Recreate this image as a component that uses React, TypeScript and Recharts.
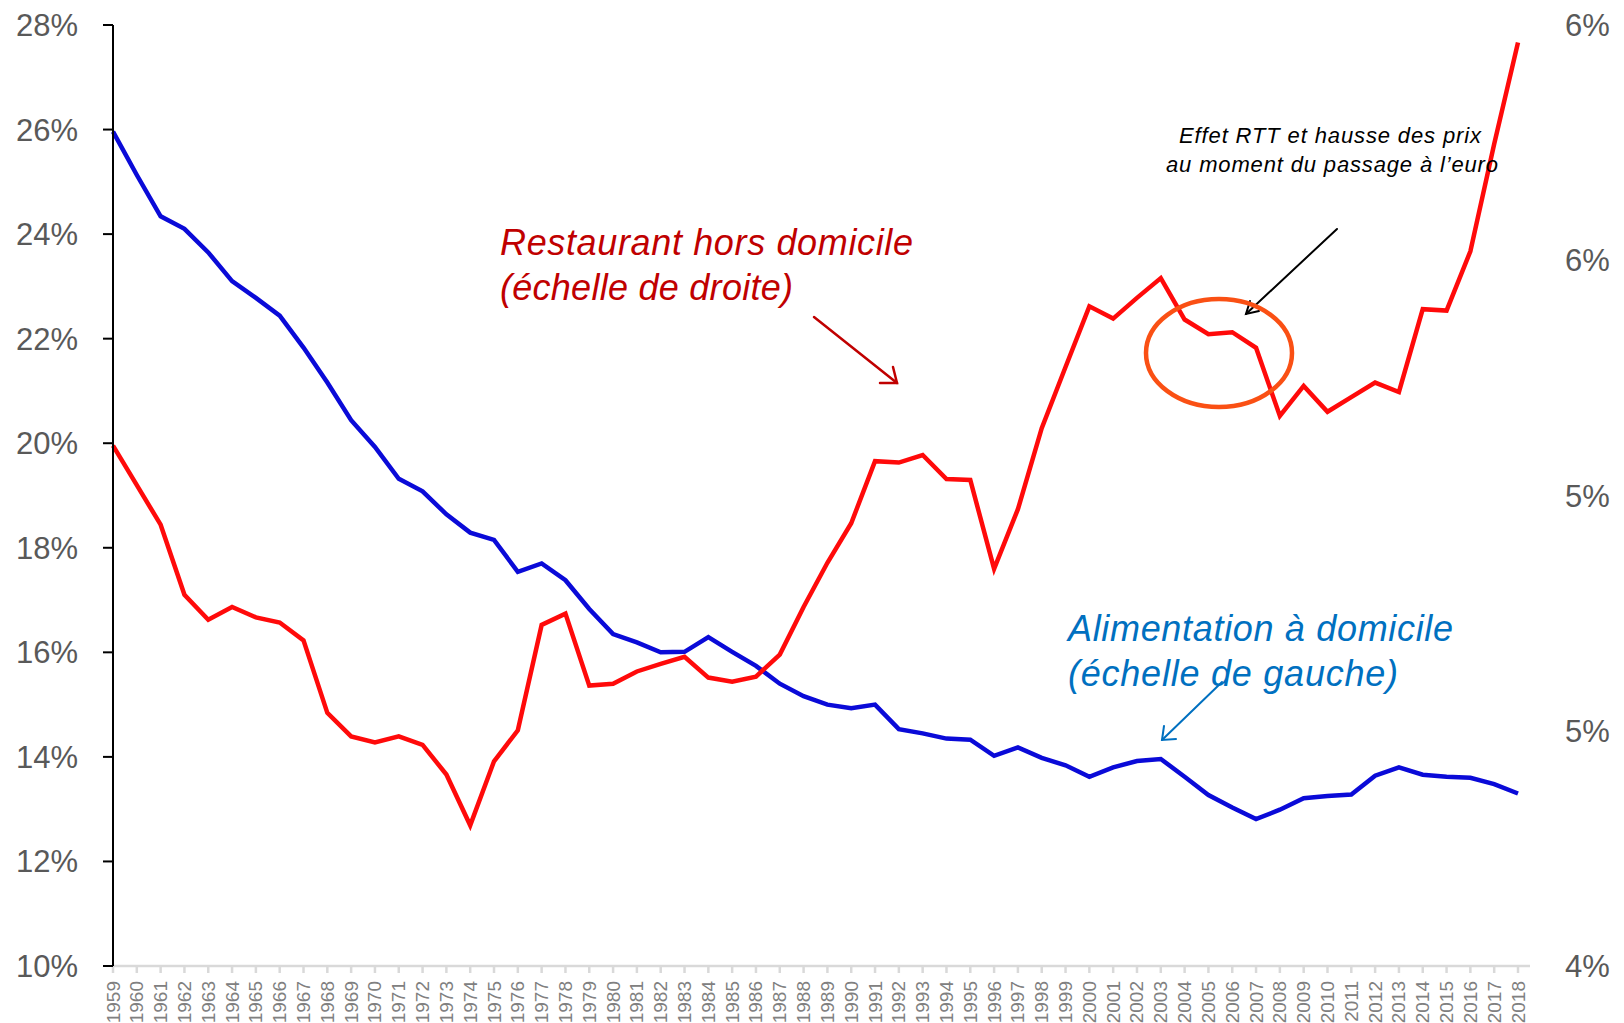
import React from "react";
import { LineChart, Line, XAxis, YAxis } from "recharts";

const years = [
  "1959","1960","1961","1962","1963","1964","1965","1966","1967","1968","1969",
  "1970","1971","1972","1973","1974","1975","1976","1977","1978","1979",
  "1980","1981","1982","1983","1984","1985","1986","1987","1988","1989",
  "1990","1991","1992","1993","1994","1995","1996","1997","1998","1999",
  "2000","2001","2002","2003","2004","2005","2006","2007","2008","2009",
  "2010","2011","2012","2013","2014","2015","2016","2017","2018",
];

// Alimentation à domicile (left scale, %)
const alimentation = [
  25.96, 25.13, 24.34, 24.1, 23.65, 23.1, 22.78, 22.44, 21.83, 21.16, 20.44,
  19.93, 19.32, 19.08, 18.64, 18.29, 18.15, 17.54, 17.7, 17.38, 16.83,
  16.35, 16.19, 16.0, 16.01, 16.29, 16.01, 15.74, 15.4, 15.16, 15.0,
  14.93, 15.0, 14.53, 14.45, 14.35, 14.33, 14.02, 14.18, 13.98, 13.84,
  13.62, 13.8, 13.92, 13.96, 13.62, 13.27, 13.03, 12.81, 12.99, 13.21,
  13.25, 13.28, 13.64, 13.8, 13.66, 13.62, 13.6, 13.48, 13.3,
];

// Restaurant hors domicile (right scale, %)
const restaurant = [
  5.106, 5.022, 4.938, 4.789, 4.736, 4.763, 4.741, 4.73, 4.692, 4.538, 4.488,
  4.475, 4.488, 4.47, 4.407, 4.299, 4.435, 4.501, 4.725, 4.749, 4.596,
  4.6, 4.626, 4.642, 4.657, 4.613, 4.604, 4.615, 4.662, 4.763, 4.857,
  4.941, 5.073, 5.07, 5.086, 5.035, 5.033, 4.844, 4.971, 5.143, 5.273,
  5.402, 5.376, 5.42, 5.462, 5.374, 5.343, 5.347, 5.314, 5.169, 5.233,
  5.178, 5.209, 5.24, 5.22, 5.396, 5.393, 5.519, 5.747, 5.963,
];

const leftTicks = [10, 12, 14, 16, 18, 20, 22, 24, 26, 28];
const rightTicks = [4, 4.5, 5, 5.5, 6];

const data = years.map((y, i) => ({
  year: y,
  alimentation: alimentation[i],
  restaurant: restaurant[i],
}));

const FONT = "'Liberation Sans', Arial, sans-serif";

const YearTick = (props: any) => {
  const { x, y, payload } = props;
  return (
    <text
      x={x}
      y={y}
      transform={`rotate(-90, ${x}, ${y})`}
      textAnchor="end"
      dominantBaseline="central"
      fontSize={19}
      fontFamily={FONT}
      fill="#808080"
    >
      {payload.value}
    </text>
  );
};

export default function App() {
  return (
    <div
      style={{
        position: "absolute",
        left: 0,
        top: 0,
        width: 1624,
        height: 1023,
        background: "#fff",
        overflow: "hidden",
      }}
    >
      <LineChart
        width={1624}
        height={1023}
        data={data}
        margin={{ top: 25, right: 0, bottom: 0, left: 0 }}
      >
        <XAxis
          dataKey="year"
          interval={0}
          padding={{ left: 0, right: 12 }}
          stroke="#d9d9d9"
          strokeWidth={2.5}
          tickSize={7}
          tickMargin={8}
          height={57}
          tick={<YearTick />}
        />
        <YAxis
          yAxisId="left"
          orientation="left"
          width={113}
          domain={[10, 28]}
          ticks={leftTicks}
          allowDataOverflow
          stroke="#000"
          strokeWidth={2}
          tickSize={10}
          tickMargin={25}
          tick={{ fontSize: 31, fill: "#595959", fontFamily: FONT }}
          tickFormatter={(v: number) => `${v}%`}
        />
        <YAxis
          yAxisId="right"
          orientation="right"
          width={94}
          domain={[4, 6]}
          ticks={rightTicks}
          allowDataOverflow
          axisLine={false}
          tickLine={false}
          tickSize={6}
          tickMargin={29}
          tick={{ fontSize: 31, fill: "#595959", fontFamily: FONT, textAnchor: "start" }}
          tickFormatter={(v: number) => `${v.toFixed(0)}%`}
        />
        <Line
          yAxisId="left"
          type="linear"
          dataKey="alimentation"
          stroke="#0a0ad8"
          strokeWidth={4.5}
          dot={false}
          isAnimationActive={false}
        />
        <Line
          yAxisId="right"
          type="linear"
          dataKey="restaurant"
          stroke="#ff0a0a"
          strokeWidth={4.5}
          dot={false}
          isAnimationActive={false}
        />
      </LineChart>
      <svg
        width={1624}
        height={1023}
        style={{ position: "absolute", left: 0, top: 0, pointerEvents: "none" }}
      >
        <g fontFamily={FONT} fontStyle="italic">
          <text x={500} y={255} fontSize={36} fill="#c00000" textLength={413} lengthAdjust="spacing">
            Restaurant hors domicile
          </text>
          <text x={500} y={300} fontSize={36} fill="#c00000" textLength={293} lengthAdjust="spacing">
            (échelle de droite)
          </text>
          <text x={1068} y={641} fontSize={36} fill="#0070c0" textLength={385} lengthAdjust="spacing">
            Alimentation à domicile
          </text>
          <text x={1068} y={686} fontSize={36} fill="#0070c0" textLength={330} lengthAdjust="spacing">
            (échelle de gauche)
          </text>
          <text x={1179} y={143} fontSize={22} fill="#000" textLength={302} lengthAdjust="spacing">
            Effet RTT et hausse des prix
          </text>
          <text x={1166} y={172} fontSize={22} fill="#000" textLength={332} lengthAdjust="spacing">
            au moment du passage à l’euro
          </text>
        </g>
        {/* red arrow */}
        <g stroke="#c00000" strokeWidth={2.5} fill="none" strokeLinecap="round">
          <line x1={814} y1={317} x2={897} y2={383} />
          <polyline points="880,383 897,383 893,367" />
        </g>
        {/* blue arrow */}
        <g stroke="#0070c0" strokeWidth={2} fill="none" strokeLinecap="round">
          <line x1={1222} y1={682} x2={1162} y2={740} />
          <polyline points="1164,726 1162,740 1176,739" />
        </g>
        {/* black arrow */}
        <g stroke="#000" strokeWidth={2} fill="none" strokeLinecap="round">
          <line x1={1337} y1={229} x2={1246} y2={314} />
          <polyline points="1250,301 1246,314 1259,311" />
        </g>
        <ellipse cx={1219} cy={353} rx={73} ry={54} fill="none" stroke="#fa5014" strokeWidth={4.5} />
      </svg>
    </div>
  );
}
